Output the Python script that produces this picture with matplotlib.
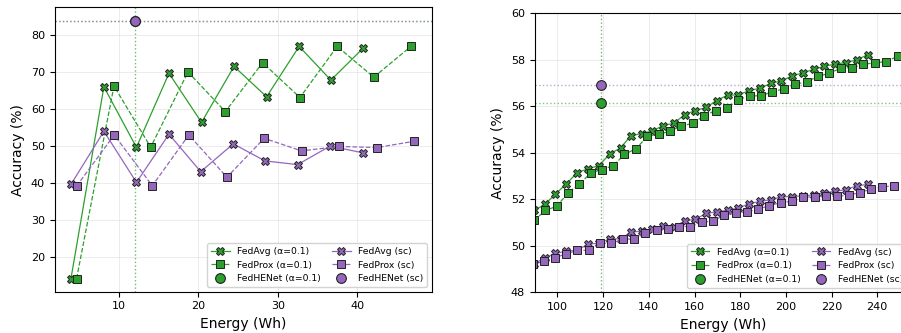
import numpy as np
import matplotlib.pyplot as plt

GREEN = '#2ca02c'
PURPLE = '#9467bd'

# ---- left panel data (short run) ----
l_avg_a_x = [3.95, 8.1, 12.2, 16.3, 20.4, 24.5, 28.6, 32.7, 36.7, 40.8]
l_avg_a_y = [14.15, 65.9, 49.55, 69.55, 56.3, 71.4, 63.2, 76.8, 67.7, 76.4]
l_prox_a_x = [4.66, 9.37, 14.0, 18.7, 23.4, 28.1, 32.8, 37.5, 42.1, 46.8]
l_prox_a_y = [14.15, 66.1, 49.6, 69.9, 59.2, 72.4, 63.0, 76.8, 68.5, 76.8]
l_avg_sc_x = [3.95, 8.1, 12.2, 16.3, 20.3, 24.4, 28.4, 32.5, 36.6, 40.7]
l_avg_sc_y = [39.55, 53.9, 40.1, 53.1, 43.0, 50.5, 45.9, 44.9, 49.9, 48.1]
l_prox_sc_x = [4.66, 9.4, 14.2, 18.8, 23.6, 28.3, 33.0, 37.7, 42.5, 47.2]
l_prox_sc_y = [39.1, 52.9, 39.2, 52.9, 41.5, 52.0, 48.6, 49.8, 49.5, 51.2]
l_henet_x = 12.05
l_henet_a_y = 83.6
l_henet_sc_y = 83.6

# ---- right panel data (long run) ----
r_avg_a_x = [89.8, 94.5, 99.1, 103.8, 108.5, 113.3, 118.1, 122.9, 127.6, 132.1,
             136.8, 141.6, 146.2, 150.9, 155.7, 160.4, 165.1, 169.7, 174.5, 179.2,
             184.0, 188.7, 193.4, 198.0, 202.8, 207.5, 212.2, 216.9, 221.7, 226.3,
             231.1, 235.8]
r_avg_a_y = [51.52, 51.78, 52.23, 52.65, 53.14, 53.31, 53.45, 53.95, 54.21, 54.73,
             54.83, 54.94, 55.17, 55.27, 55.64, 55.82, 55.95, 56.25, 56.48, 56.49,
             56.68, 56.78, 56.99, 57.09, 57.31, 57.44, 57.59, 57.72, 57.82, 57.88,
             58.0, 58.22]
r_prox_a_x = [89.8, 94.7, 99.6, 104.7, 109.6, 114.6, 119.5, 124.5, 129.3, 134.4,
              139.4, 144.3, 149.3, 154.3, 159.4, 164.3, 169.3, 174.3, 179.2, 184.2,
              189.1, 194.1, 199.1, 204.0, 209.1, 214.1, 219.0, 224.0, 229.0, 233.9,
              238.9, 243.8, 248.9]
r_prox_a_y = [51.09, 51.52, 51.70, 52.28, 52.65, 53.14, 53.28, 53.45, 53.93, 54.18,
              54.71, 54.80, 54.93, 55.16, 55.27, 55.60, 55.82, 55.92, 56.29, 56.45,
              56.45, 56.63, 56.75, 56.95, 57.05, 57.29, 57.42, 57.64, 57.66, 57.81,
              57.87, 57.92, 58.15]
r_avg_sc_x = [89.8, 94.5, 99.1, 103.8, 108.5, 113.3, 118.1, 122.9, 127.6, 132.1,
              136.8, 141.6, 146.2, 150.9, 155.7, 160.4, 165.1, 169.7, 174.5, 179.2,
              184.0, 188.7, 193.4, 198.0, 202.8, 207.5, 212.2, 216.9, 221.7, 226.3,
              231.1, 235.8]
r_avg_sc_y = [49.23, 49.48, 49.67, 49.77, 49.80, 50.07, 50.11, 50.30, 50.30, 50.59,
              50.63, 50.73, 50.87, 50.83, 51.06, 51.15, 51.39, 51.46, 51.53, 51.63,
              51.81, 51.91, 51.98, 52.11, 52.12, 52.15, 52.19, 52.29, 52.34, 52.42,
              52.58, 52.64]
r_prox_sc_x = [89.1, 94.0, 98.8, 103.8, 108.75, 113.6, 118.8, 123.6, 128.6, 133.55,
               138.5, 143.5, 148.4, 153.4, 158.2, 163.2, 168.1, 173.1, 178.0, 183.0,
               188.0, 192.8, 197.7, 202.7, 207.7, 212.6, 217.6, 222.5, 227.5, 232.5,
               237.3, 242.2, 247.2]
r_prox_sc_y = [49.2, 49.33, 49.48, 49.66, 49.80, 49.81, 50.11, 50.10, 50.29, 50.29,
               50.54, 50.66, 50.72, 50.83, 50.83, 51.02, 51.06, 51.33, 51.42, 51.46,
               51.58, 51.73, 51.86, 51.91, 52.08, 52.12, 52.13, 52.13, 52.18, 52.29,
               52.44, 52.52, 52.59]
r_henet_x = 119.0
r_henet_a_y = 56.13
r_henet_sc_y = 56.92


def draw_panel(ax, avg_a, prox_a, avg_sc, prox_sc, henet_x, henet_a_y, henet_sc_y):
    ax.grid(True, color='#e0e0e0', linewidth=0.6, alpha=0.7)
    ax.set_axisbelow(True)

    # reference lines for FedHENet
    ax.axhline(henet_a_y, color=GREEN, linestyle=':', linewidth=1, alpha=0.6)
    ax.axhline(henet_sc_y, color=PURPLE, linestyle=':', linewidth=1, alpha=0.6)
    ax.axvline(henet_x, color=GREEN, linestyle=':', linewidth=1, alpha=0.7)

    mk = dict(markeredgecolor='#222222', markeredgewidth=0.7, linewidth=0.9)
    ax.plot(*avg_a, color=GREEN, marker='X', markersize=5.2, linestyle='-',
            label='FedAvg (α=0.1)', **mk)
    ax.plot(*prox_a, color=GREEN, marker='s', markersize=5.5, linestyle='--',
            label='FedProx (α=0.1)', **mk)
    ax.plot(henet_x, henet_a_y, color=GREEN, marker='o', markersize=7, linestyle='none',
            markeredgecolor='#222222', markeredgewidth=0.8, label='FedHENet (α=0.1)')
    ax.plot(*avg_sc, color=PURPLE, marker='X', markersize=5.2, linestyle='-',
            label='FedAvg (sc)', **mk)
    ax.plot(*prox_sc, color=PURPLE, marker='s', markersize=5.5, linestyle='--',
            label='FedProx (sc)', **mk)
    ax.plot(henet_x, henet_sc_y, color=PURPLE, marker='o', markersize=7, linestyle='none',
            markeredgecolor='#222222', markeredgewidth=0.8, label='FedHENet (sc)')

    ax.set_xlabel('Energy (Wh)', fontsize=10)
    ax.set_ylabel('Accuracy (%)', fontsize=10)
    ax.tick_params(labelsize=8)
    ax.legend(loc='lower right', ncol=2, fontsize=6.7, framealpha=0.85,
              columnspacing=1.2, handlelength=2.0, borderpad=0.4, labelspacing=0.5)


if __name__ == '__main__':
    fig = plt.figure(figsize=(9.01, 3.33), dpi=100)

    ax1 = fig.add_axes([0.0607, 0.124, 0.4184, 0.8535])
    draw_panel(ax1, (l_avg_a_x, l_avg_a_y), (l_prox_a_x, l_prox_a_y),
               (l_avg_sc_x, l_avg_sc_y), (l_prox_sc_x, l_prox_sc_y),
               l_henet_x, l_henet_a_y, l_henet_sc_y)
    ax1.set_xlim(1.9, 49.4)
    ax1.set_ylim(10.6, 87.3)

    # right panel runs past the figure edge, as in the original
    ax2 = fig.add_axes([0.5934, 0.1222, 0.4182, 0.8378])
    draw_panel(ax2, (r_avg_a_x, r_avg_a_y), (r_prox_a_x, r_prox_a_y),
               (r_avg_sc_x, r_avg_sc_y), (r_prox_sc_x, r_prox_sc_y),
               r_henet_x, r_henet_a_y, r_henet_sc_y)
    ax2.set_xlim(90, 255)
    ax2.set_ylim(48, 60)
    ax2.set_xticks(np.arange(100, 241, 20))

    fig.savefig('out.png', dpi=100)
